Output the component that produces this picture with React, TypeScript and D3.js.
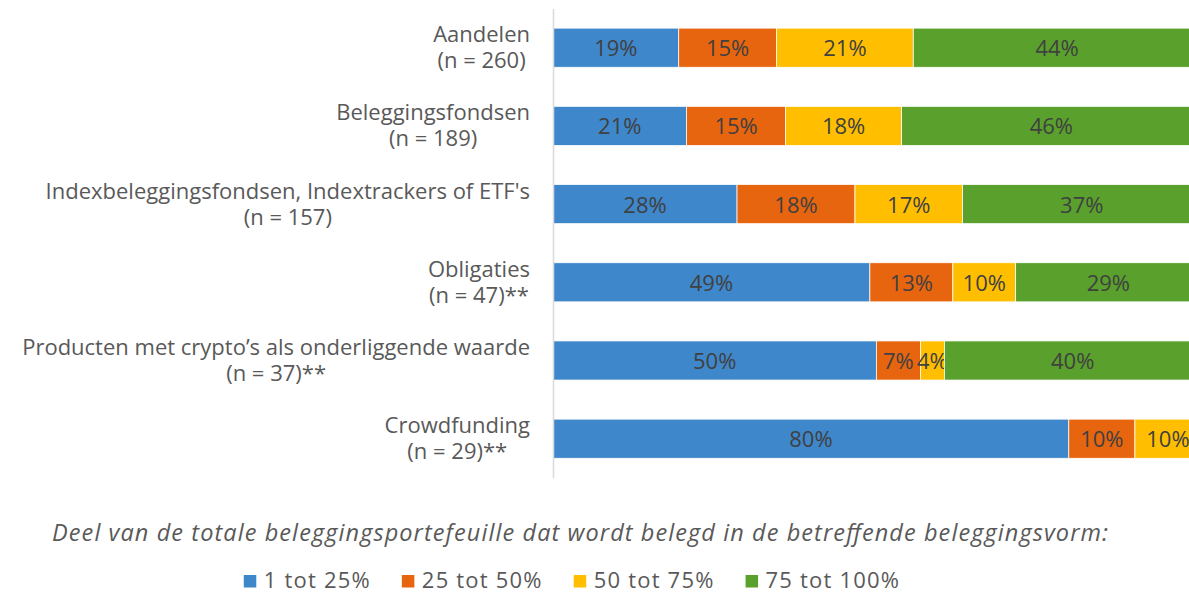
import React, { useRef, useEffect } from 'react';
import * as d3 from 'd3';

const categories = [
  'Aandelen',
  'Beleggingsfondsen',
  "Indexbeleggingsfondsen, Indextrackers of ETF's",
  'Obligaties',
  'Producten met crypto\u2019s als onderliggende waarde',
  'Crowdfunding',
];
const sampleSizes = ['(n = 260)', '(n = 189)', '(n = 157)', '(n = 47)**', '(n = 37)**', '(n = 29)**'];
const seriesNames = ['1 tot 25%', '25 tot 50%', '50 tot 75%', '75 tot 100%'];
const share1to25 = [19.4, 20.6, 28.4, 48.9, 49.9, 79.6];
const share25to50 = [15.1, 15.3, 18.2, 12.8, 6.8, 10.2];
const share50to75 = [21.1, 17.9, 16.6, 9.7, 3.7, 10.2];
const share75to100 = [44.4, 46.2, 36.8, 28.6, 39.6, 0];
const colors = ['#3f87cb', '#e8650f', '#ffbf00', '#5aa02c'];
const title = 'Deel van de totale beleggingsportefeuille dat wordt belegd in de betreffende beleggingsvorm:';

const FONT = '"Open Sans", sans-serif';

export default function App() {
  const svgRef = useRef<SVGSVGElement>(null);

  useEffect(() => {
    const w = 1189;
    const h = 593;
    const svg = d3.select(svgRef.current);
    svg.selectAll('*').remove();
    svg.attr('width', w).attr('height', h);

    svg.append('rect').attr('width', w).attr('height', h).attr('fill', '#fff');

    // scales
    const x = d3.scaleLinear().domain([0, 100]).range([553, 1201]);
    const y = d3.scaleBand<string>()
      .domain(categories)
      .range([8.6, 477.8])
      .paddingInner(0.5)
      .paddingOuter(0.25);

    const rows = categories.map((c, i) => ({
      cat: c,
      s0: share1to25[i],
      s1: share25to50[i],
      s2: share50to75[i],
      s3: share75to100[i],
    }));
    const stack = d3.stack<any>().keys(['s0', 's1', 's2', 's3']);
    const series = stack(rows);

    // bars
    const g = svg.append('g');
    series.forEach((s, si) => {
      const layer = g.append('g');
      const visible = s.filter(d => d[1] - d[0] > 0);
      layer.selectAll('rect')
        .data(visible)
        .join('rect')
        .attr('x', d => x(d[0]))
        .attr('y', d => y(d.data.cat)!)
        .attr('width', d => x(d[1]) - x(d[0]))
        .attr('height', y.bandwidth())
        .attr('fill', colors[si])
        .attr('stroke', '#fff')
        .attr('stroke-width', 0.75);
      layer.selectAll('text')
        .data(visible)
        .join('text')
        .attr('x', d => (x(d[0]) + x(d[1])) / 2)
        .attr('y', d => y(d.data.cat)! + y.bandwidth() / 2 + 8.5)
        .attr('text-anchor', 'middle')
        .style('font-family', FONT)
        .style('font-size', '22px')
        .attr('fill', '#404040')
        .text(d => Math.round(d[1] - d[0]) + '%');
    });

    // vertical axis line
    svg.append('g')
      .attr('transform', `translate(${x(0)},0)`)
      .call(d3.axisLeft(y).tickSize(0).tickFormat(() => ''))
      .call(a => a.select('.domain').attr('stroke', '#d9d9d9').attr('stroke-width', 1.5));

    // category labels: two centred lines, block right-aligned
    const labels = svg.append('g');
    categories.forEach((c, i) => {
      const cy = y(c)! + y.bandwidth() / 2;
      const t1 = labels.append('text')
        .attr('y', cy - 5.5)
        .style('font-family', FONT)
        .style('font-size', '22px')
        .attr('fill', '#595959')
        .attr('text-anchor', 'middle')
        .text(c);
      const t2 = labels.append('text')
        .attr('y', cy + 20.5)
        .style('font-family', FONT)
        .style('font-size', '22px')
        .attr('fill', '#595959')
        .attr('text-anchor', 'middle')
        .text(sampleSizes[i]);
      const wMax = Math.max(
        (t1.node() as SVGTextElement).getComputedTextLength(),
        (t2.node() as SVGTextElement).getComputedTextLength()
      );
      const cx = 530 - wMax / 2;
      t1.attr('x', cx);
      t2.attr('x', cx);
    });

    // title
    svg.append('text')
      .attr('x', 580)
      .attr('y', 541)
      .attr('text-anchor', 'middle')
      .attr('textLength', 1056)
      .attr('lengthAdjust', 'spacing')
      .style('font-family', FONT)
      .style('font-size', '23.5px')
      .style('font-style', 'italic')
      .attr('fill', '#595959')
      .text(title);

    // legend
    const legend = svg.append('g');
    let lx = 0;
    seriesNames.forEach((n, i) => {
      const item = legend.append('g').attr('transform', `translate(${lx},0)`);
      item.append('rect')
        .attr('x', 0).attr('y', -5)
        .attr('width', 12.5).attr('height', 12.5)
        .attr('fill', colors[i]);
      const t = item.append('text')
        .attr('x', 20)
        .attr('y', 8)
        .style('font-family', FONT)
        .style('font-size', '22px')
        .style('letter-spacing', '1.2px')
        .attr('fill', '#595959')
        .text(n);
      lx += 20 + (t.node() as SVGTextElement).getComputedTextLength() + 31;
    });
    const legendW = lx - 31;
    legend.attr('transform', `translate(${572 - legendW / 2},580)`);
  }, []);

  return (
    <div style={{ position: 'absolute', left: 0, top: 0, width: 1189, height: 593, overflow: 'hidden' }}>
      <svg ref={svgRef} style={{ display: 'block' }}></svg>
    </div>
  );
}
